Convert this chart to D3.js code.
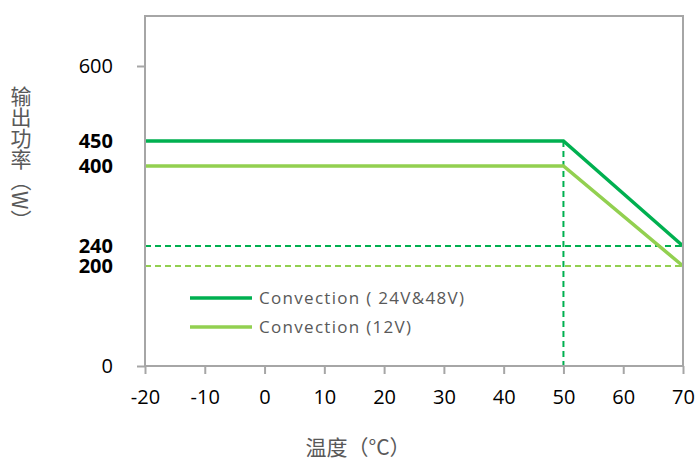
<!DOCTYPE html>
<html><head><meta charset="utf-8">
<script src="https://cdn.jsdelivr.net/npm/d3@7/dist/d3.min.js"></script>
<style>body{margin:0;background:#fff}</style>
</head><body>
<svg id="c" width="700" height="464"></svg>
<script>
const xTicks = [-20,-10,0,10,20,30,40,50,60,70];
const yTickLabels = [{v:600,bold:false},{v:450,bold:true},{v:400,bold:true},{v:240,bold:true},{v:200,bold:true},{v:0,bold:false}];
const yAxisTicks = [0,600];
const seriesNames = ["Convection ( 24V&48V)", "Convection (12V)"];
const seriesColors = ["#00b050", "#92d050"];
const temps = [-20, 50, 70];
const power24_48 = [450, 450, 240];
const power12 = [400, 400, 200];
const refH = [{v:240,c:0},{v:200,c:1}];
const refV = {x:50, top:450};

const W=700,H=464, m={l:145,r:17,t:16,b:98};
const svg=d3.select("#c");
const x=d3.scaleLinear().domain([-20,70]).range([m.l,W-m.r]);
const y=d3.scaleLinear().domain([0,700]).range([H-m.b,m.t]);
const grey="#a6a6a6";

// dashed refs
refH.forEach(r=>{
  svg.append("line").attr("x1",x(-20)).attr("x2",x(70)).attr("y1",y(r.v)).attr("y2",y(r.v))
   .attr("stroke",seriesColors[r.c]).attr("stroke-width",2).attr("stroke-dasharray","6,4");
});
svg.append("line").attr("x1",x(refV.x)).attr("x2",x(refV.x)).attr("y1",y(refV.top)).attr("y2",y(0))
  .attr("stroke",seriesColors[0]).attr("stroke-width",2).attr("stroke-dasharray","6,4");

// lines
const line=d3.line().x(d=>x(d[0])).y(d=>y(d[1]));
[power24_48,power12].forEach((s,i)=>{
  svg.append("path").datum(temps.map((t,j)=>[t,s[j]])).attr("d",line)
    .attr("fill","none").attr("stroke",seriesColors[i]).attr("stroke-width",3.5);
});

// frame
svg.append("rect").attr("x",x(-20)).attr("y",y(700)).attr("width",x(70)-x(-20)).attr("height",y(0)-y(700))
  .attr("fill","none").attr("stroke",grey).attr("stroke-width",2);

// x axis
const xa=svg.append("g").attr("transform",`translate(0,${y(0)})`)
  .call(d3.axisBottom(x).tickValues(xTicks).tickSize(8).tickPadding(16).tickFormat(d=>String(d)));
xa.select(".domain").remove();
xa.selectAll("line").attr("stroke",grey).attr("stroke-width",2);
xa.selectAll("text").attr("font-family","Open Sans, sans-serif").attr("font-size",20).attr("fill","#000");

// y axis ticks
const ya=svg.append("g").attr("transform",`translate(${x(-20)},0)`)
  .call(d3.axisLeft(y).tickValues(yAxisTicks).tickSize(8).tickFormat(""));
ya.select(".domain").remove();
ya.selectAll("line").attr("stroke",grey).attr("stroke-width",2);

// y labels
svg.selectAll(".yl").data(yTickLabels).join("text").attr("class","yl")
  .attr("x",113).attr("y",d=>y(d.v)).attr("dy","0.35em").attr("text-anchor","end")
  .attr("font-family","Open Sans, sans-serif").attr("font-size",20)
  .attr("font-weight",d=>d.bold?"bold":"normal").attr("fill","#000").text(d=>d.v);

// legend
seriesNames.forEach((n,i)=>{
  const ly=298+i*29;
  svg.append("line").attr("x1",190).attr("x2",252).attr("y1",ly).attr("y2",ly)
    .attr("stroke",seriesColors[i]).attr("stroke-width",3.5);
  svg.append("text").attr("x",259).attr("y",ly).attr("dy","0.35em")
    .attr("font-family","Open Sans, sans-serif").attr("font-size",17).attr("letter-spacing",1.3)
    .attr("fill","#595959").text(n);
});

// titles
svg.append("text").attr("x",358).attr("y",448).attr("dy","0.35em").attr("text-anchor","middle")
  .attr("font-family","Noto Sans CJK SC, sans-serif").attr("font-size",21).attr("fill","#595959").text("温度（°C）");
svg.append("text").attr("x",21).attr("y",86)
  .attr("style","writing-mode: vertical-rl; font-family:'Noto Sans CJK SC'; font-size:21px; fill:#595959")
  .text("输出功率（W）");
</script>
</body></html>
